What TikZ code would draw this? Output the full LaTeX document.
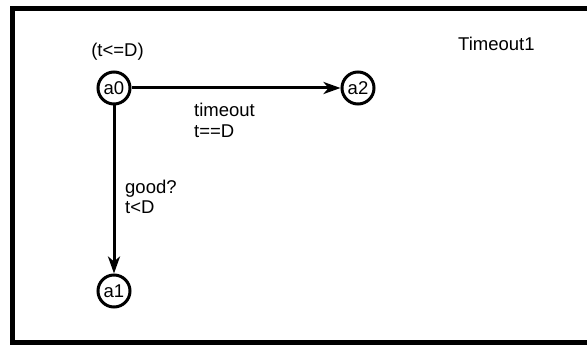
\documentclass[tikz,border=0pt]{standalone}
\usepackage{fontspec}
\setmainfont{Liberation Sans}
\usetikzlibrary{arrows.meta}
\tikzset{
  state/.style={circle, draw, line width=3pt, minimum size=32pt, inner sep=0pt, font=\fontsize{18.5}{20}\selectfont},
  lbl/.style={anchor=base west, inner sep=0pt, font=\fontsize{18.5}{20}\selectfont},
  edge/.style={line width=3pt, -{Stealth[length=17pt, width=12pt, inset=5pt]}}
}
\begin{document}
\begin{tikzpicture}[x=1pt, y=-1pt]
\useasboundingbox (0,0) rectangle (587,345);
\clip (0,0) rectangle (587,345);
\draw[line width=5pt] (12,8.5) rectangle (600,342.5);
\node[state] (a0) at (114,88) {a0};
\node[state] (a2) at (358,88) {a2};
\node[state] (a1) at (114,291) {a1};
\draw[edge] (a0) -- (a2);
\draw[edge] (a0) -- (a1);
\node[lbl, anchor=base] (inv) at (117.5,57) {(t<=D)};
\node[lbl] (name) at (458,51) {Timeout1};
\node[lbl] (l1) at (194,117) {timeout};
\node[lbl] (l2) at (194,137) {t==D};
\node[lbl] (l3) at (125,193) {good?};
\node[lbl] (l4) at (125,213) {t<D};
\end{tikzpicture}
\end{document}
